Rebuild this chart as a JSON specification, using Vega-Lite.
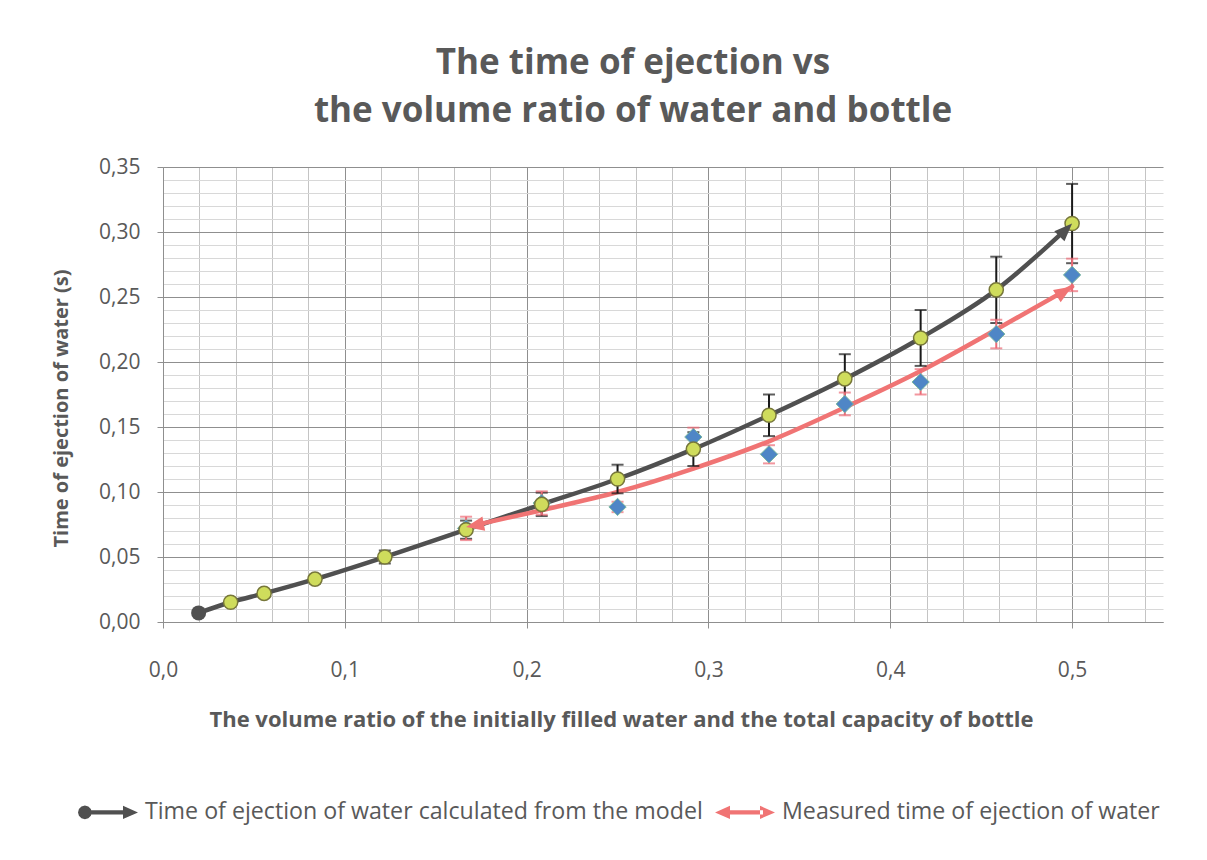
{
  "$schema": "https://vega.github.io/schema/vega-lite/v6.json",
  "width": 1000,
  "height": 455,
  "autosize": "none",
  "padding": {"left": 163, "top": 167, "right": 44, "bottom": 238},
  "background": "white",
  "title": {
    "text": ["The time of ejection vs", "the volume ratio of water and bottle"],
    "fontSize": 35,
    "fontWeight": "bold",
    "color": "#595959",
    "lineHeight": 48,
    "anchor": "middle",
    "frame": "group",
    "dx": -30,
    "offset": 27
  },
  "config": {"font": "Open Sans", "view": {"stroke": null}},
  "resolve": {"axis": {"x": "independent", "y": "independent"}},
  "datasets": {
    "model": [
      {"x": 0.0196, "t": 0.007, "lo": 0.0063, "hi": 0.0077},
      {"x": 0.0372, "t": 0.0152, "lo": 0.0137, "hi": 0.0167},
      {"x": 0.0556, "t": 0.022, "lo": 0.0198, "hi": 0.0242},
      {"x": 0.0836, "t": 0.033, "lo": 0.0297, "hi": 0.0363},
      {"x": 0.122, "t": 0.05, "lo": 0.045, "hi": 0.055},
      {"x": 0.1667, "t": 0.071, "lo": 0.064, "hi": 0.078},
      {"x": 0.2083, "t": 0.0905, "lo": 0.0815, "hi": 0.0995},
      {"x": 0.25, "t": 0.11, "lo": 0.099, "hi": 0.121},
      {"x": 0.2917, "t": 0.133, "lo": 0.12, "hi": 0.146},
      {"x": 0.3333, "t": 0.159, "lo": 0.143, "hi": 0.175},
      {"x": 0.375, "t": 0.187, "lo": 0.168, "hi": 0.206},
      {"x": 0.4167, "t": 0.2185, "lo": 0.197, "hi": 0.24},
      {"x": 0.4583, "t": 0.2555, "lo": 0.23, "hi": 0.281},
      {"x": 0.5, "t": 0.3065, "lo": 0.276, "hi": 0.337}
    ],
    "measured": [
      {"x": 0.1667, "t": 0.072, "lo": 0.063, "hi": 0.081},
      {"x": 0.2083, "t": 0.0915, "lo": 0.0825, "hi": 0.1005},
      {"x": 0.25, "t": 0.0885, "lo": 0.0845, "hi": 0.0925},
      {"x": 0.2917, "t": 0.1423, "lo": 0.135, "hi": 0.1495},
      {"x": 0.3333, "t": 0.129, "lo": 0.122, "hi": 0.136},
      {"x": 0.375, "t": 0.1677, "lo": 0.159, "hi": 0.1765},
      {"x": 0.4167, "t": 0.1846, "lo": 0.175, "hi": 0.1945},
      {"x": 0.4583, "t": 0.2215, "lo": 0.2105, "hi": 0.2325},
      {"x": 0.5, "t": 0.267, "lo": 0.2545, "hi": 0.2795}
    ],
    "fit": [
      {"x": 0.1667, "t": 0.073},
      {"x": 0.2083, "t": 0.086},
      {"x": 0.25, "t": 0.1},
      {"x": 0.2917, "t": 0.118},
      {"x": 0.3333, "t": 0.139},
      {"x": 0.375, "t": 0.165},
      {"x": 0.4167, "t": 0.193},
      {"x": 0.4583, "t": 0.225},
      {"x": 0.5, "t": 0.258}
    ]
  },
  "layer": [
    {
      "data": {"name": "model"},
      "mark": {"type": "line", "color": "#505050", "strokeWidth": 4.5, "interpolate": "monotone", "strokeCap": "round"},
      "encoding": {
        "x": {
          "field": "x", "type": "quantitative",
          "scale": {"domain": [0, 0.55], "nice": false, "zero": false},
          "axis": {
            "orient": "bottom",
            "title": "The volume ratio of the initially filled water and the total capacity of bottle",
            "values": [0, 0.02, 0.04, 0.06, 0.08, 0.1, 0.12, 0.14, 0.16, 0.18, 0.2, 0.22, 0.24, 0.26, 0.28, 0.3, 0.32, 0.34, 0.36, 0.38, 0.4, 0.42, 0.44, 0.46, 0.48, 0.5, 0.52, 0.54],
            "labelExpr": "abs(datum.value*10-round(datum.value*10))<0.000001 ? replace(format(datum.value,'.1f'),'.',',') : ''",
            "grid": true,
            "gridColor": {"condition": {"test": "abs(datum.value*10-round(datum.value*10))<0.000001", "value": "#8f8f8f"}, "value": "#c4c4c4"},
            "gridWidth": 1,
            "tickOpacity": {"condition": {"test": "abs(datum.value*10-round(datum.value*10))<0.000001", "value": 1}, "value": 0},
            "tickColor": "#8f8f8f",
            "tickSize": 6,
            "domainColor": "#8f8f8f",
            "labelFontSize": 21,
            "labelColor": "#595959",
            "labelPadding": 31,
            "labelFlush": false,
            "labelOverlap": false,
            "titleFontSize": 22,
            "titleFontWeight": "bold",
            "titleColor": "#595959",
            "titleX": 458,
            "titleY": 104,
            "titleBaseline": "alphabetic"
          }
        },
        "y": {
          "field": "t", "type": "quantitative",
          "scale": {"domain": [0, 0.35], "nice": false, "zero": false},
          "axis": {
            "orient": "left",
            "title": "Time of ejection of water (s)",
            "values": [0, 0.01, 0.02, 0.03, 0.04, 0.05, 0.06, 0.07, 0.08, 0.09, 0.1, 0.11, 0.12, 0.13, 0.14, 0.15, 0.16, 0.17, 0.18, 0.19, 0.2, 0.21, 0.22, 0.23, 0.24, 0.25, 0.26, 0.27, 0.28, 0.29, 0.3, 0.31, 0.32, 0.33, 0.34, 0.35],
            "labelExpr": "abs(datum.value*20-round(datum.value*20))<0.000001 ? replace(format(datum.value,'.2f'),'.',',') : ''",
            "grid": true,
            "gridColor": {"condition": {"test": "abs(datum.value*20-round(datum.value*20))<0.000001", "value": "#8f8f8f"}, "value": "#d8d8d8"},
            "gridWidth": 1,
            "tickOpacity": {"condition": {"test": "abs(datum.value*20-round(datum.value*20))<0.000001", "value": 1}, "value": 0},
            "tickColor": "#8f8f8f",
            "tickSize": 6,
            "domainColor": "#8f8f8f",
            "labelFontSize": 21,
            "labelColor": "#595959",
            "labelPadding": 17,
            "labelFlush": false,
            "labelOverlap": false,
            "titleFontSize": 20,
            "titleFontWeight": "bold",
            "titleColor": "#595959",
            "titleX": -96,
            "titleY": 241,
            "titleAngle": -90,
            "titleBaseline": "alphabetic"
          }
        }
      }
    },
    {
      "data": {"name": "fit"},
      "mark": {"type": "line", "color": "#f07474", "strokeWidth": 4.5, "interpolate": "monotone", "strokeCap": "round"},
      "encoding": {
        "x": {"field": "x", "type": "quantitative", "axis": null},
        "y": {"field": "t", "type": "quantitative", "axis": null}
      }
    },
    {
      "data": {"name": "model"},
      "mark": {"type": "errorbar", "color": "#1a1a1a", "thickness": 2, "ticks": {"size": 12}},
      "encoding": {
        "x": {"field": "x", "type": "quantitative", "axis": null},
        "y": {"field": "lo", "type": "quantitative", "axis": null},
        "y2": {"field": "hi"}
      }
    },
    {
      "data": {"name": "measured"},
      "mark": {"type": "errorbar", "color": "#ec6b76", "thickness": 2, "ticks": {"size": 12}},
      "encoding": {
        "x": {"field": "x", "type": "quantitative", "axis": null},
        "y": {"field": "lo", "type": "quantitative", "axis": null},
        "y2": {"field": "hi"}
      }
    },
    {
      "data": {"name": "measured"},
      "mark": {"type": "point", "shape": "diamond", "filled": true, "fill": "#4f86c6", "stroke": "#7ab8a0", "strokeWidth": 1, "size": 300, "opacity": 1},
      "encoding": {
        "x": {"field": "x", "type": "quantitative", "axis": null},
        "y": {"field": "t", "type": "quantitative", "axis": null}
      }
    },
    {
      "data": {"name": "model"},
      "transform": [{"filter": "datum.x > 0.03"}],
      "mark": {"type": "point", "shape": "circle", "filled": true, "fill": "#cfdc5c", "stroke": "#77773a", "strokeWidth": 1.5, "size": 200, "opacity": 1},
      "encoding": {
        "x": {"field": "x", "type": "quantitative", "axis": null},
        "y": {"field": "t", "type": "quantitative", "axis": null}
      }
    },
    {
      "data": {"name": "model"},
      "transform": [{"filter": "datum.x < 0.03"}],
      "mark": {"type": "point", "shape": "circle", "filled": true, "color": "#505050", "size": 225, "opacity": 1},
      "encoding": {
        "x": {"field": "x", "type": "quantitative", "axis": null},
        "y": {"field": "t", "type": "quantitative", "axis": null}
      }
    },
    {
      "data": {"name": "model"},
      "transform": [{"filter": "datum.x == 0.5"}],
      "mark": {"type": "point", "shape": "M0,0L-0.8,2L0.8,2Z", "angle": 45, "filled": true, "color": "#505050", "size": 324, "opacity": 1},
      "encoding": {
        "x": {"field": "x", "type": "quantitative", "axis": null},
        "y": {"field": "t", "type": "quantitative", "axis": null}
      }
    },
    {
      "data": {"name": "fit"},
      "transform": [{"filter": "datum.x == 0.5"}],
      "mark": {"type": "point", "shape": "M0,0L-0.8,2L0.8,2Z", "angle": 58, "filled": true, "color": "#f07474", "size": 324, "opacity": 1},
      "encoding": {
        "x": {"field": "x", "type": "quantitative", "axis": null},
        "y": {"field": "t", "type": "quantitative", "axis": null}
      }
    },
    {
      "data": {"name": "fit"},
      "transform": [{"filter": "datum.x < 0.17"}],
      "mark": {"type": "point", "shape": "M0,0L-0.8,2L0.8,2Z", "angle": 259, "filled": true, "color": "#f07474", "size": 324, "opacity": 1},
      "encoding": {
        "x": {"field": "x", "type": "quantitative", "axis": null},
        "y": {"field": "t", "type": "quantitative", "axis": null}
      }
    },
    {
      "data": {"name": "model"},
      "transform": [{"filter": "false"}],
      "mark": {"type": "point", "filled": true, "opacity": 1},
      "encoding": {
        "x": {"field": "x", "type": "quantitative", "axis": null},
        "y": {"field": "t", "type": "quantitative", "axis": null},
        "color": {
          "field": "series", "type": "nominal",
          "scale": {"domain": ["Time of ejection of water calculated from the model", "Measured time of ejection of water"], "range": ["#505050", "#f07474"]},
          "legend": {"orient": "none", "legendX": -85, "legendY": 615, "direction": "horizontal", "title": null, "labelFontSize": 23.2, "labelColor": "#595959", "labelLimit": 800, "symbolSize": 3600, "labelOffset": 7, "columnPadding": 12, "padding": 0, "symbolStrokeWidth": 0}
        },
        "shape": {
          "field": "series", "type": "nominal",
          "scale": {"domain": ["Time of ejection of water calculated from the model", "Measured time of ejection of water"], "range": [
            "M-0.54,0L-0.571,0.115L-0.655,0.199L-0.77,0.23L-0.885,0.199L-0.969,0.115L-1,0L-0.969,-0.115L-0.885,-0.199L-0.77,-0.23L-0.655,-0.199L-0.571,-0.115ZM-0.6,-0.07L0.6,-0.07L0.6,0.07L-0.6,0.07ZM0.5,-0.22L1,0L0.5,0.22Z",
            "M-1,0L-0.5,-0.22L-0.5,0.22ZM-0.6,-0.07L0.6,-0.07L0.6,0.07L-0.6,0.07ZM1,0L0.5,-0.22L0.5,0.22Z"
          ]},
          "legend": {"orient": "none", "legendX": -85, "legendY": 615, "direction": "horizontal", "title": null, "labelFontSize": 23.2, "labelColor": "#595959", "labelLimit": 800, "symbolSize": 3600, "labelOffset": 7, "columnPadding": 12, "padding": 0, "symbolStrokeWidth": 0}
        }
      }
    }
  ]
}
